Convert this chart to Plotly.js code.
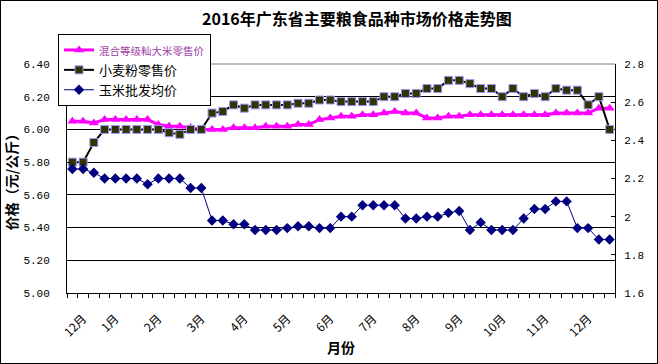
<!DOCTYPE html>
<html>
<head>
<meta charset="utf-8">
<script src="https://cdn.plot.ly/plotly-3.0.1.min.js"></script>
<style>
html,body{margin:0;padding:0;background:#fff;}
#chart{width:656px;height:362px;border:1px solid #000;}
</style>
</head>
<body>
<div id="chart"></div>
<script>
// Weekly observations, Dec 2015 - Dec 2016
const riceRetail = [6.05,6.05,6.04,6.06,6.06,6.06,6.06,6.06,6.03,6.02,6.02,6.01,6.00,6.00,6.00,6.01,6.01,6.01,6.02,6.02,6.02,6.03,6.03,6.06,6.07,6.08,6.08,6.09,6.09,6.10,6.11,6.10,6.10,6.07,6.07,6.08,6.08,6.09,6.09,6.09,6.09,6.09,6.09,6.09,6.09,6.10,6.10,6.10,6.10,6.13,6.13];
const flourRetail = [5.80,5.80,5.92,6.00,6.00,6.00,6.00,6.00,6.00,5.98,5.97,6.00,6.00,6.10,6.11,6.15,6.13,6.15,6.15,6.15,6.15,6.16,6.16,6.18,6.18,6.17,6.17,6.17,6.17,6.20,6.20,6.22,6.22,6.25,6.25,6.30,6.30,6.28,6.25,6.25,6.20,6.25,6.20,6.22,6.20,6.25,6.24,6.24,6.15,6.20,6.00];
const cornWholesale = [2.25,2.25,2.23,2.20,2.20,2.20,2.20,2.17,2.20,2.20,2.20,2.15,2.15,1.98,1.98,1.96,1.96,1.93,1.93,1.93,1.94,1.95,1.95,1.94,1.94,2.00,2.00,2.06,2.06,2.06,2.06,1.99,1.99,2.00,2.00,2.02,2.03,1.93,1.97,1.93,1.93,1.93,1.99,2.04,2.04,2.08,2.08,1.94,1.94,1.88,1.88];
const monthTickIndex = [1,4,8,12,16,20,24,28,32,36,40,44,48];
const monthTickText = ['12月','1月','2月','3月','4月','5月','6月','7月','8月','9月','10月','11月','12月'];
const seriesNames = ['混合等级籼大米零售价','小麦粉零售价','玉米批发均价'];

const xs = riceRetail.map((_, i) => i);
const boundaries = xs.concat([xs.length]).map(i => i - 0.5);

const CJK = '"Noto Sans CJK SC", sans-serif';
const MONO = '"Liberation Mono", "DejaVu Sans Mono", monospace';

const traces = [
  {
    x: xs, y: riceRetail, name: '<span style="font-size:10.5px;color:#a040a8">' + seriesNames[0] + '</span>',
    type: 'scatter', mode: 'lines+markers',
    line: {color: '#ff00ff', width: 3},
    marker: {symbol: 'triangle-up', size: 9, color: '#ff00ff'}
  },
  {
    x: xs, y: flourRetail, name: seriesNames[1],
    type: 'scatter', mode: 'lines+markers',
    line: {color: '#000000', width: 2},
    marker: {symbol: 'square', size: 8, color: '#333300', line: {color: '#9999ff', width: 1}}
  },
  {
    x: xs, y: cornWholesale, name: seriesNames[2], yaxis: 'y2',
    type: 'scatter', mode: 'lines+markers',
    line: {color: '#000080', width: 1},
    marker: {symbol: 'diamond', size: 8, color: '#000080'}
  }
];

const layout = {
  width: 656, height: 362,
  margin: {l: 66, r: 42, t: 63, b: 70},
  paper_bgcolor: '#ffffff', plot_bgcolor: '#ffffff',
  font: {family: CJK, color: '#000', size: 12},
  showlegend: true,
  title: {
    text: '<b>2016年广东省主要粮食品种市场价格走势图</b>',
    x: 0.529, xref: 'paper', xanchor: 'center',
    y: 0.95, yref: 'container', yanchor: 'middle',
    font: {family: CJK, size: 16, color: '#000'}
  },
  legend: {
    x: -0.0164, y: 1.131, xanchor: 'left', yanchor: 'top',
    bgcolor: '#ffffff', bordercolor: '#000000', borderwidth: 1,
    font: {family: CJK, size: 13, color: '#000'},
    tracegroupgap: 0
  },
  xaxis: {
    range: [-0.5, xs.length - 0.5],
    tickmode: 'array', tickvals: monthTickIndex, ticktext: monthTickText,
    ticks: '', tickangle: -45, ticklabelstandoff: 13,
    tickfont: {family: CJK, size: 12, color: '#000'},
    showgrid: false, zeroline: false,
    showline: true, linecolor: '#000', linewidth: 1,
    minor: {tickmode: 'array', tickvals: boundaries, ticks: 'outside', ticklen: 4, tickcolor: '#000', tickwidth: 1, showgrid: false},
    title: {text: '<b>月份</b>', font: {family: CJK, size: 14, color: '#000'}, standoff: 4}
  },
  yaxis: {
    range: [5.0, 6.4], dtick: 0.2, tick0: 5.0, tickformat: '.2f',
    showgrid: true, gridcolor: '#000', gridwidth: 1,
    zeroline: false, showline: true, linecolor: '#000', linewidth: 1,
    ticks: 'inside', ticklen: 4, tickcolor: '#000',
    tickfont: {family: MONO, size: 11, color: '#000'},
    ticklabelstandoff: 14,
    title: {text: '<b>价格（元/公斤）</b>', font: {family: CJK, size: 14, color: '#000'}}
  },
  yaxis2: {
    range: [1.6, 2.8], dtick: 0.2, tick0: 1.6,
    overlaying: 'y', side: 'right',
    showgrid: false, zeroline: false,
    showline: true, linecolor: '#000', linewidth: 1,
    ticks: 'inside', ticklen: 4, tickcolor: '#000',
    tickfont: {family: MONO, size: 11, color: '#000'},
    ticklabelstandoff: 6
  },
  shapes: [
    {type: 'line', xref: 'paper', yref: 'paper', x0: 0, x1: 1, y0: 1, y1: 1,
     line: {color: '#808080', width: 1}, layer: 'above'}
  ]
};

Plotly.newPlot('chart', traces, layout, {displayModeBar: false, staticPlot: true});
</script>
</body>
</html>
